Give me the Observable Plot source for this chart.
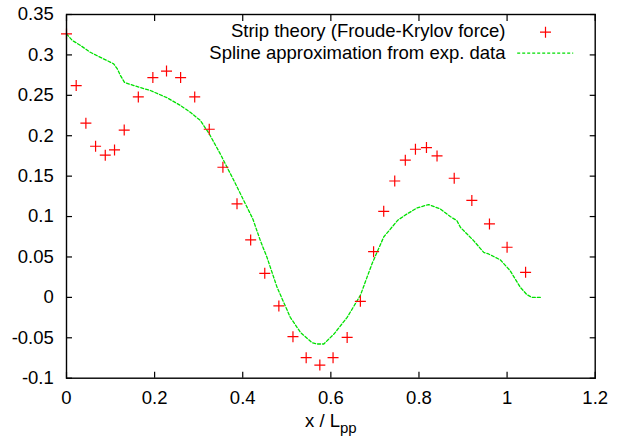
<!DOCTYPE html>
<html>
<head>
<meta charset="utf-8">
<script src="https://cdn.jsdelivr.net/npm/d3@7"></script>
<script src="https://cdn.jsdelivr.net/npm/@observablehq/plot@0.6"></script>
<style>
  html, body { margin: 0; padding: 0; background: #fff; }
  #chart { width: 628px; height: 440px; }
  #chart svg { font-family: "Liberation Sans", Arial, Helvetica, sans-serif; }
</style>
</head>
<body>
<div id="chart"></div>
<script>
// ---- Data ----
const seriesNames = ["Strip theory (Froude-Krylov force)", "Spline approximation from exp. data"];

const stripX = [0, 0.022, 0.044, 0.066, 0.088, 0.109, 0.131, 0.163, 0.196, 0.227, 0.259, 0.291,
  0.324, 0.355, 0.387, 0.418, 0.45, 0.482, 0.514, 0.544, 0.575, 0.605, 0.637, 0.667, 0.697,
  0.72, 0.745, 0.769, 0.792, 0.817, 0.841, 0.88, 0.92, 0.96, 1.0, 1.042];
const stripY = [0.326, 0.262, 0.2155, 0.187, 0.176, 0.1825, 0.207, 0.248, 0.272, 0.280, 0.272, 0.248,
  0.208, 0.161, 0.1157, 0.0711, 0.0298, -0.0106, -0.0486, -0.0746, -0.0837, -0.0746, -0.0495, -0.0049, 0.0566,
  0.1065, 0.144, 0.1697, 0.1833, 0.1853, 0.175, 0.1474, 0.120, 0.0909, 0.062, 0.031];

const splineX = [0, 0.013, 0.032, 0.054, 0.077, 0.107, 0.115, 0.1225, 0.1316, 0.153, 0.19, 0.228,
  0.259, 0.281, 0.304, 0.324, 0.349, 0.38, 0.423, 0.44, 0.455, 0.478, 0.508, 0.531, 0.557,
  0.569, 0.584, 0.607, 0.637, 0.667, 0.6935, 0.72, 0.752, 0.773, 0.796, 0.822, 0.848, 0.871,
  0.886, 0.894, 0.924, 0.947, 0.958, 0.985, 1.007, 1.03, 1.045, 1.056, 1.079];
const splineY = [0.326, 0.318, 0.3116, 0.3033, 0.297, 0.289, 0.283, 0.2745, 0.266, 0.262, 0.256, 0.247,
  0.2373, 0.229, 0.2188, 0.2023, 0.1775, 0.1445, 0.097, 0.0702, 0.0496, 0.0124, -0.0247, -0.0433, -0.056,
  -0.0577, -0.0577, -0.0454, -0.0247, 0.0025, 0.0417, 0.0747, 0.0955, 0.1033, 0.1107, 0.1148, 0.1095, 0.100,
  0.095, 0.0867, 0.0702, 0.0557, 0.0537, 0.0463, 0.033, 0.0124, 0.0034, 0.0, 0.0];

const xTicks = [0, 0.2, 0.4, 0.6, 0.8, 1, 1.2];
const yTicks = [-0.1, -0.05, 0, 0.05, 0.1, 0.15, 0.2, 0.25, 0.3, 0.35];
const xLabelMain = "x / L";
const xLabelSub = "pp";

// ---- Build tables ----
const strip = stripX.map((x, i) => ({x, y: stripY[i]}));
const spline = splineX.map((x, i) => ({x, y: splineY[i]}));

const plusSymbol = {
  draw(ctx, size) {
    const r = Math.sqrt(size / Math.PI);
    ctx.moveTo(-r, 0); ctx.lineTo(r, 0);
    ctx.moveTo(0, -r); ctx.lineTo(0, r);
  }
};
const segSymbol = {
  draw(ctx, size) {
    const r = Math.sqrt(size / Math.PI);
    ctx.moveTo(-r, 0); ctx.lineTo(r, 0);
  }
};

const RED = "#ff0000";
const GREEN = "#00e000";
const FS = 18.5;

const plot = Plot.plot({
  width: 628,
  height: 440,
  marginLeft: 66,
  marginRight: 33.3,
  marginTop: 14,
  marginBottom: 62.3,
  x: {domain: [0, 1.2]},
  y: {domain: [-0.1, 0.35]},
  style: {fontFamily: '"Liberation Sans", Arial, Helvetica, sans-serif', fontSize: FS + "px", background: "#fff"},
  marks: [
    // tick labels
    Plot.axisX(xTicks, {anchor: "bottom", tickSize: 0, tickPadding: 12.3, tickFormat: d => String(d), fontSize: FS, label: null, color: "#000"}),
    Plot.axisY(yTicks, {anchor: "left", tickSize: 0, tickPadding: 12.7, tickFormat: d => String(d), fontSize: FS, label: null, color: "#000"}),
    // inward ticks (mirrored)
    Plot.axisX(xTicks, {anchor: "bottom", tickSize: 6, dy: -6, tickFormat: () => "", label: null, strokeWidth: 1.2}),
    Plot.axisX(xTicks, {anchor: "top", tickSize: 6, dy: 6, tickFormat: () => "", label: null, strokeWidth: 1.2}),
    Plot.axisY(yTicks, {anchor: "left", tickSize: 6, dx: 6, tickFormat: () => "", label: null, strokeWidth: 1.2}),
    Plot.axisY(yTicks, {anchor: "right", tickSize: 6, dx: -6, tickFormat: () => "", label: null, strokeWidth: 1.2}),
    // data
    Plot.line(spline, {x: "x", y: "y", stroke: GREEN, strokeWidth: 1.3, strokeDasharray: "3,2"}),
    Plot.dot(strip, {x: "x", y: "y", symbol: plusSymbol, r: 5.5, fill: "none", stroke: RED, strokeWidth: 1.2}),
    // frame
    Plot.frame({stroke: "#000", strokeWidth: 1.4}),
    // x-axis title
    Plot.text([xLabelMain + xLabelSub], {frameAnchor: "bottom", dy: 43.3, lineAnchor: "middle", fontSize: FS, fill: "#000"}),
    // legend
    Plot.text([seriesNames[0]], {frameAnchor: "top-right", dx: -89.7, dy: 16.9, textAnchor: "end", lineAnchor: "middle", fontSize: FS, fill: "#000"}),
    Plot.text([seriesNames[1]], {frameAnchor: "top-right", dx: -89.7, dy: 38.6, textAnchor: "end", lineAnchor: "middle", fontSize: FS, fill: "#000"}),
    Plot.dot([seriesNames[0]], {frameAnchor: "top-right", dx: -49.7, dy: 17.7, symbol: plusSymbol, r: 5.5, fill: "none", stroke: RED, strokeWidth: 1.2}),
    Plot.dot([seriesNames[1]], {frameAnchor: "top-right", dx: -50, dy: 38.7, symbol: segSymbol, r: 28, fill: "none", stroke: GREEN, strokeWidth: 1.3, strokeDasharray: "3,2"})
  ]
});

// subscript for the x-axis title
d3.select(plot).selectAll("text").each(function () {
  if (this.textContent === xLabelMain + xLabelSub) {
    const t = d3.select(this);
    t.text(xLabelMain);
    t.append("tspan").attr("dy", "6").attr("font-size", "15px").text(xLabelSub);
  }
});

document.getElementById("chart").appendChild(plot);
</script>
</body>
</html>
